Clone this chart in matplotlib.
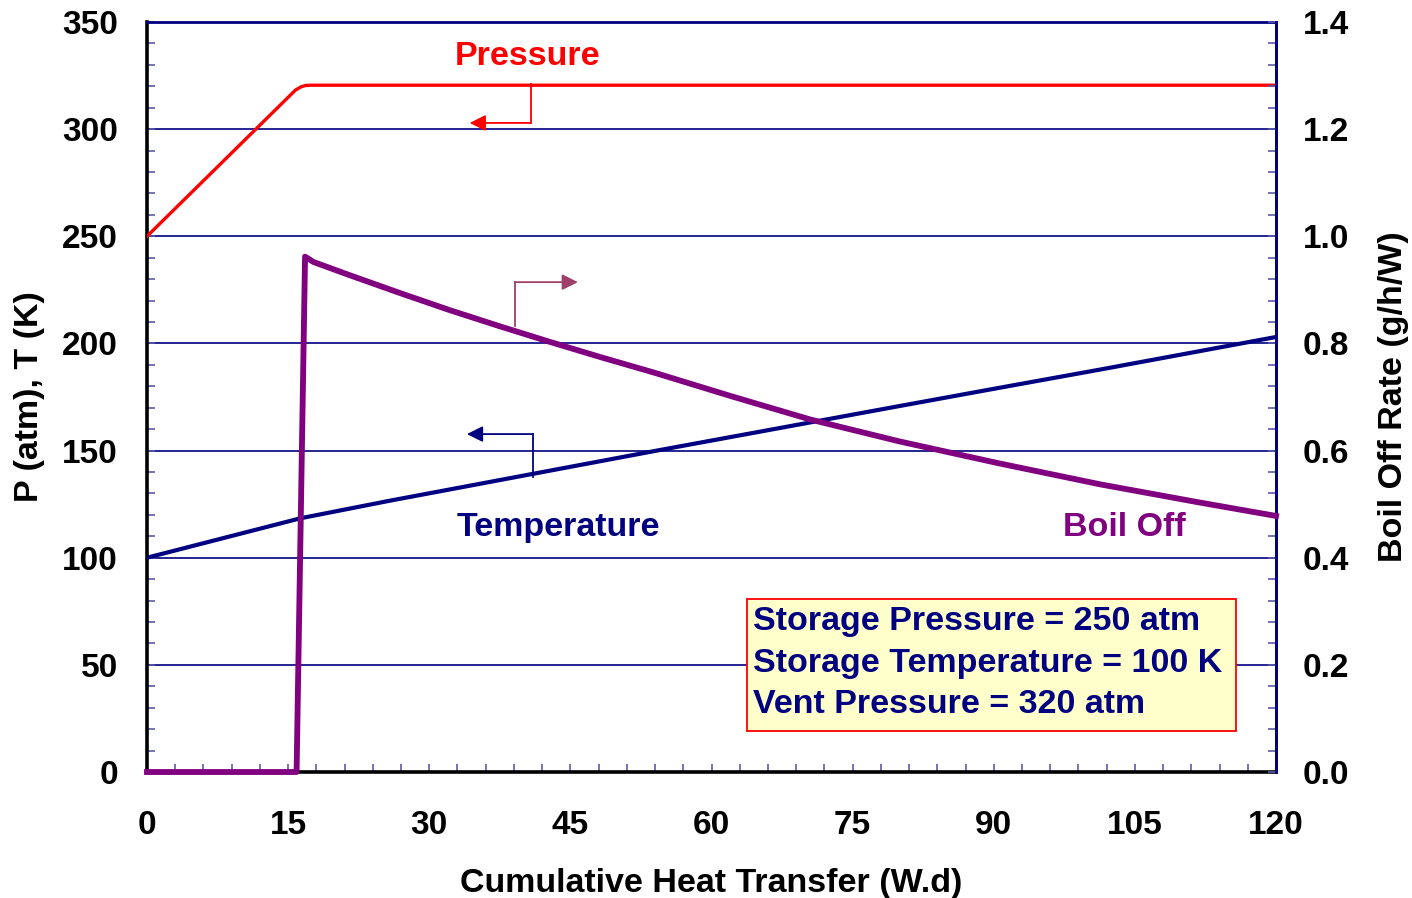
import matplotlib
matplotlib.use("Agg")
import matplotlib.pyplot as plt
from matplotlib.ticker import MultipleLocator
from matplotlib.patches import Rectangle

plt.rcParams['font.family'] = ['Liberation Sans', 'DejaVu Sans']
plt.rcParams['font.weight'] = 'bold'

# ---- data ----
p_x = [0, 15.8, 16.4, 16.9, 17.4, 120]
p_y = [250, 318.3, 319.8, 320.4, 320.5, 320.5]

t_x = [0, 16.3, 25.8, 54.2, 80.0, 90.6, 101.3, 120]
t_y = [100, 118.4, 126.6, 150.0, 170.8, 179.3, 187.8, 203.0]

b_x = [0, 15.9, 16.8, 17.7, 21.6, 26.9, 32.2, 37.5, 42.8, 48.1, 54.0, 62.0, 70.5, 80.0, 90.6, 101.3, 111.9, 120]
b_y = [0, 0, 0.962, 0.952, 0.927, 0.894, 0.862, 0.832, 0.803, 0.775, 0.745, 0.702, 0.658, 0.617, 0.576, 0.537, 0.503, 0.478]

x_ticks = [0, 15, 30, 45, 60, 75, 90, 105, 120]
left_ticks = [0, 50, 100, 150, 200, 250, 300, 350]
right_ticks = [0.0, 0.2, 0.4, 0.6, 0.8, 1.0, 1.2, 1.4]

info_lines = ["Storage Pressure = 250 atm",
              "Storage Temperature = 100 K",
              "Vent Pressure = 320 atm"]

RED = '#FF0000'
NAVY = '#000080'
PURPLE = '#800080'
MAUVE = '#A0406A'
TICKC = '#5A5AAA'
FS = 24.5

fig = plt.figure(figsize=(14.12, 8.98), dpi=100)
ax = fig.add_axes([0.1041, 0.1403, 0.7996, 0.8352])
ax2 = ax.twinx()

ax.set_xlim(0, 120)
ax.set_ylim(0, 350)
ax2.set_ylim(0, 1.4)

# grid
for v in left_ticks[1:-1]:
    ax.axhline(v, color=NAVY, lw=1.2, zorder=1)

ax.plot(p_x, p_y, color=RED, lw=2.4, zorder=3, solid_joinstyle='round')
ax.plot(t_x, t_y, color=NAVY, lw=3.0, zorder=3, solid_joinstyle='round')
ax2.plot(b_x, b_y, color=PURPLE, lw=4.2, zorder=3, clip_on=False, solid_joinstyle='round')

# ticks
ax.set_xticks(x_ticks)
ax.set_yticks(left_ticks)
ax2.set_yticks(right_ticks)
ax2.set_yticklabels([f"{v:.1f}" for v in right_ticks])
ax.xaxis.set_minor_locator(MultipleLocator(3))
ax.yaxis.set_minor_locator(MultipleLocator(10))
ax2.yaxis.set_minor_locator(MultipleLocator(0.04))

ax.tick_params(axis='x', which='both', direction='in', length=6, width=1.2, color=TICKC,
               labelsize=24, pad=27, top=False)
ax.tick_params(axis='y', which='both', direction='in', length=6, width=1.2, color=TICKC,
               labelsize=24, pad=21, right=False)
ax2.tick_params(axis='y', which='both', direction='in', length=6, width=1.2, color=TICKC,
                labelsize=24, pad=19)
for lab in ax.get_xticklabels() + ax.get_yticklabels() + ax2.get_yticklabels():
    lab.set_fontweight('bold')

# spines
for s in ['left', 'bottom']:
    ax.spines[s].set_color('black')
    ax.spines[s].set_linewidth(2.6)
for s in ['top', 'right']:
    ax.spines[s].set_color(NAVY)
    ax.spines[s].set_linewidth(2.0)
for s in ['left', 'bottom', 'top']:
    ax2.spines[s].set_visible(False)
ax2.spines['right'].set_color(NAVY)
ax2.spines['right'].set_linewidth(2.0)

ax.set_xlabel("Cumulative Heat Transfer (W.d)", fontsize=FS, fontweight='bold', labelpad=20)
ax.set_ylabel("P (atm), T (K)", fontsize=FS, fontweight='bold', labelpad=12)
ax2.set_ylabel("Boil Off Rate (g/h/W)", fontsize=FS, fontweight='bold', labelpad=21)

# series labels
ax.text(40.5, 334.0, "Pressure", color=RED, fontsize=FS, fontweight='bold', ha='center', va='center')
ax.text(43.7, 114.0, "Temperature", color=NAVY, fontsize=FS, fontweight='bold', ha='center', va='center')
ax.text(103.85, 114.0, "Boil Off", color=PURPLE, fontsize=FS, fontweight='bold', ha='center', va='center')

# pointer arrows
def pointer(x0, y0, x1, y1, x2, color):
    ax.plot([x0, x1], [y0, y1], color=color, lw=1.3, zorder=4)
    ax.annotate("", xy=(x2, y1), xytext=(x1, y1),
                arrowprops=dict(arrowstyle='-|>', color=color, lw=1.3,
                                mutation_scale=24, shrinkA=0, shrinkB=0), zorder=4)

pointer(40.8, 321, 40.8, 302.9, 34.3, RED)
pointer(39.1, 208.1, 39.1, 228.6, 45.8, MAUVE)
pointer(41.0, 137.7, 41.0, 157.7, 34.0, NAVY)

# info box
ax.add_patch(Rectangle((63.8, 19.1), 51.95, 61.6, facecolor='#FFFFCC', edgecolor=RED,
                       lw=1.3, zorder=5))
ax.text(64.4, 77.6, "\n".join(info_lines), color=NAVY, fontsize=FS, fontweight='bold',
        ha='left', va='top', linespacing=1.45, zorder=6)

fig.savefig("out.png", dpi=100)
